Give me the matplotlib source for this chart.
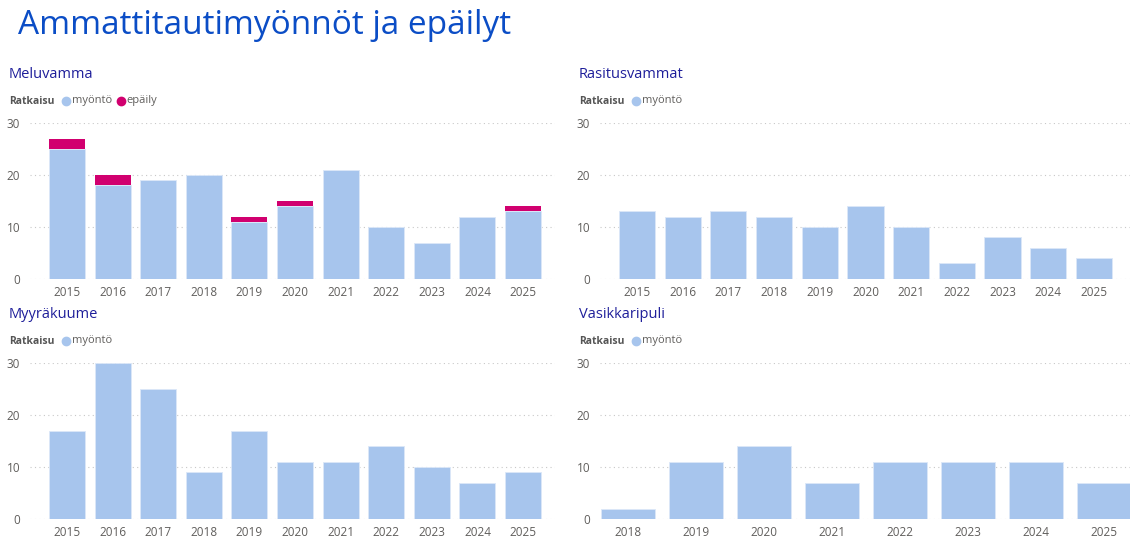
import matplotlib
matplotlib.use("Agg")
import matplotlib.pyplot as plt
import numpy as np

plt.rcParams['font.family'] = ['Open Sans', 'DejaVu Sans']

years = ["2015", "2016", "2017", "2018", "2019", "2020", "2021", "2022", "2023", "2024", "2025"]
meluvamma_myonto = [25, 18, 19, 20, 11, 14, 21, 10, 7, 12, 13]
meluvamma_epaily = [2, 2, 0, 0, 1, 1, 0, 0, 0, 0, 1]
rasitus_myonto = [13, 12, 13, 12, 10, 14, 10, 3, 8, 6, 4]
myyra_myonto = [17, 30, 25, 9, 17, 11, 11, 14, 10, 7, 9]
vasikka_years = ["2018", "2019", "2020", "2021", "2022", "2023", "2024", "2025"]
vasikka_myonto = [2, 11, 14, 7, 11, 11, 11, 7]

BLUE = "#A7C5ED"
PINK = "#D1006F"
TITLE = "#0B4DC6"
SUB = "#1E1E9A"
GREY = "#605E5C"

W, H = 1135, 558
fig = plt.figure(figsize=(W / 100, H / 100), dpi=100)

fig.text(18 / W, 1 - 25 / H, "Ammattitautimyönnöt ja epäilyt", fontsize=24,
         color=TITLE, va="center", ha="left")


def panel(x0, x1, y0, title, cats, myonto, epaily=None, xlim=None):
    # y0 = pixel row of the zero line, 30 sits 156 px higher
    ax = fig.add_axes([x0 / W, 1 - y0 / H, (x1 - x0) / W, 156 / H])
    x = np.arange(len(cats))
    ax.bar(x, myonto, width=0.79, color=BLUE, edgecolor="#DCE8F8", linewidth=0.6, zorder=2)
    if epaily is not None:
        ax.bar(x, epaily, width=0.79, bottom=myonto, color=PINK, linewidth=0, zorder=2)
    ax.set_ylim(0, 30)
    ax.set_xlim(*xlim)
    ax.set_yticks([0, 10, 20, 30])
    ax.set_xticks(x)
    ax.set_xticklabels(cats)
    ax.yaxis.grid(True, linestyle=(0, (1, 3)), color="#C8C8C8", linewidth=0.8, zorder=0)
    ax.tick_params(length=0, labelsize=8.5, labelcolor=GREY)
    ax.tick_params(axis="y", pad=7)
    ax.tick_params(axis="x", pad=5)
    for s in ax.spines.values():
        s.set_visible(False)
    ax.set_axisbelow(True)

    left = 9 if x0 < 100 else 579
    fig.text(left / W, 1 - (y0 - 205) / H, title, fontsize=10.5, color=SUB, va="center")
    ly = 1 - (y0 - 178) / H
    fig.text(left / W, ly, "Ratkaisu", fontsize=7.5, color="#555555", weight="bold", va="center")
    fig.add_artist(plt.Line2D([(left + 57) / W], [ly], marker="o", markersize=6,
                              color=BLUE, transform=fig.transFigure))
    fig.text((left + 63) / W, ly, "myöntö", fontsize=8, color=GREY, va="center")
    if epaily is not None:
        fig.add_artist(plt.Line2D([(left + 112) / W], [ly], marker="o", markersize=6,
                                  color=PINK, transform=fig.transFigure))
        fig.text((left + 117) / W, ly, "epäily", fontsize=8, color=GREY, va="center")
    return ax


panel(30, 555, 279, "Meluvamma", years, meluvamma_myonto, meluvamma_epaily, xlim=(-0.81, 10.7))
panel(600, 1130, 279, "Rasitusvammat", years, rasitus_myonto, xlim=(-0.81, 10.79))
panel(30, 555, 519, "Myyräkuume", years, myyra_myonto, xlim=(-0.81, 10.7))
panel(600, 1130, 519, "Vasikkaripuli", vasikka_years, vasikka_myonto, xlim=(-0.41, 7.38))

fig.savefig("out.png", dpi=100)
